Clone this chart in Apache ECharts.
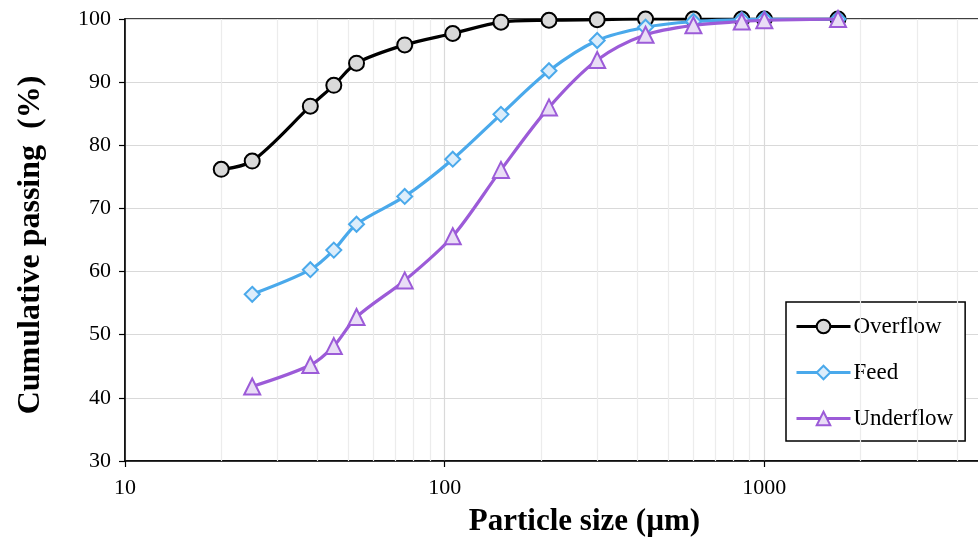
<!DOCTYPE html>
<html><head><meta charset="utf-8">
<script src="https://cdn.jsdelivr.net/npm/echarts@6/dist/echarts.min.js"></script>
<style>html,body{margin:0;padding:0;background:#fff}#c{width:978px;height:537px}</style>
</head><body><div id="c"></div>
<script>
// Data
const overflowSizes = [20, 25, 38, 45, 53, 75, 106, 150, 212, 300, 425, 600, 850, 1000, 1700];
const overflowPass  = [76.2, 77.5, 86.2, 89.5, 93.0, 95.9, 97.7, 99.5, 99.8, 99.9, 100, 100, 100, 100, 100];
const feedSizes     = [25, 38, 45, 53, 75, 106, 150, 212, 300, 425, 600, 850, 1000, 1700];
const feedPass      = [56.4, 60.3, 63.4, 67.5, 71.9, 77.8, 84.9, 91.8, 96.6, 98.7, 99.6, 99.9, 100, 100];
const underSizes    = [25, 38, 45, 53, 75, 106, 150, 212, 300, 425, 600, 850, 1000, 1700];
const underPass     = [41.8, 45.2, 48.2, 52.8, 58.6, 65.6, 76.1, 86.0, 93.5, 97.5, 99.0, 99.6, 99.8, 100];
const minorTicks    = [20,30,40,50,60,70,80,90,200,300,400,500,600,700,800,900,2000,3000,4000,5000,6000,7000,8000,9000];
const seriesNames   = ['Overflow', 'Feed', 'Underflow'];

const FONT = 'Liberation Serif';
const pair = (xs, ys) => xs.map((x, i) => [x, ys[i]]);

const chart = echarts.init(document.getElementById('c'), null, {renderer: 'canvas'});
chart.setOption({
  animation: false,
  backgroundColor: '#fff',
  textStyle: {fontFamily: FONT, color: '#000'},
  grid: {left: 125, top: 19, width: 959, height: 442, containLabel: false, outerBoundsMode: 'none',
         show: true, borderColor: '#000', borderWidth: 1.5, backgroundColor: 'transparent'},
  xAxis: {
    type: 'log', logBase: 10, min: 10, max: 10000,
    name: 'Particle size (µm)', nameLocation: 'middle', nameGap: 45,
    nameTextStyle: {fontFamily: FONT, fontWeight: 'bold', fontSize: 31, color: '#000', padding: [0, 40, 0, 0]},
    axisLine: {show: true, lineStyle: {color: '#000', width: 1.5}},
    axisTick: {show: true, inside: false, length: 6, lineStyle: {color: '#000', width: 1.2}},
    axisLabel: {fontFamily: FONT, fontSize: 22, color: '#000', margin: 16, formatter: v => String(v)},
    splitLine: {show: true, lineStyle: {color: '#d9d9d9', width: 1.2}},
    minorTick: {show: false}, minorSplitLine: {show: false}
  },
  yAxis: {
    type: 'value', min: 30, max: 100, interval: 10,
    name: 'Cumulative passing  (%)', nameLocation: 'middle', nameGap: 78,
    nameTextStyle: {fontFamily: FONT, fontWeight: 'bold', fontSize: 32, color: '#000', padding: [0, 10, 0, 0]},
    axisLine: {show: true, lineStyle: {color: '#000', width: 1.5}},
    axisTick: {show: true, inside: false, length: 6, lineStyle: {color: '#000', width: 1.2}},
    axisLabel: {fontFamily: FONT, fontSize: 22, color: '#000', margin: 14},
    splitLine: {show: true, lineStyle: {color: '#d9d9d9', width: 1.2}}
  },
  legend: {
    show: true, orient: 'vertical', left: 786, top: 302,
    data: seriesNames,
    backgroundColor: '#fff', borderColor: '#000', borderWidth: 1.5,
    padding: [13, 12, 11, 9], itemGap: 23, itemWidth: 54, itemHeight: 17,
    lineStyle: {width: 3},
    textStyle: {fontFamily: FONT, fontSize: 23, color: '#000', padding: [0,0,0,-2]}
  },
  series: [
    {
      type: 'line', name: '_grid', data: [], silent: true, z: 1,
      markLine: {
        silent: true, symbol: 'none', animation: false,
        label: {show: false},
        lineStyle: {color: '#ececec', width: 1.2, type: 'solid'},
        data: minorTicks.map(v => ({xAxis: v}))
      }
    },
    {
      type: 'line', name: seriesNames[0], data: pair(overflowSizes, overflowPass),
      smooth: 0.3, z: 5, symbol: 'circle', symbolSize: 15,
      lineStyle: {color: '#000', width: 3.2},
      itemStyle: {color: '#d9d9d9', borderColor: '#000', borderWidth: 2}
    },
    {
      type: 'line', name: seriesNames[1], data: pair(feedSizes, feedPass),
      smooth: 0.3, z: 6, symbol: 'diamond', symbolSize: 15,
      lineStyle: {color: '#4aa9eb', width: 3.2},
      itemStyle: {color: '#dcedfb', borderColor: '#4aa9eb', borderWidth: 2}
    },
    {
      type: 'line', name: seriesNames[2], data: pair(underSizes, underPass),
      smooth: 0.3, z: 7, symbol: 'triangle', symbolSize: 16,
      lineStyle: {color: '#9c5bd8', width: 3.2},
      itemStyle: {color: '#e9ddf6', borderColor: '#9c5bd8', borderWidth: 2}
    }
  ]
});
</script>
</body></html>
